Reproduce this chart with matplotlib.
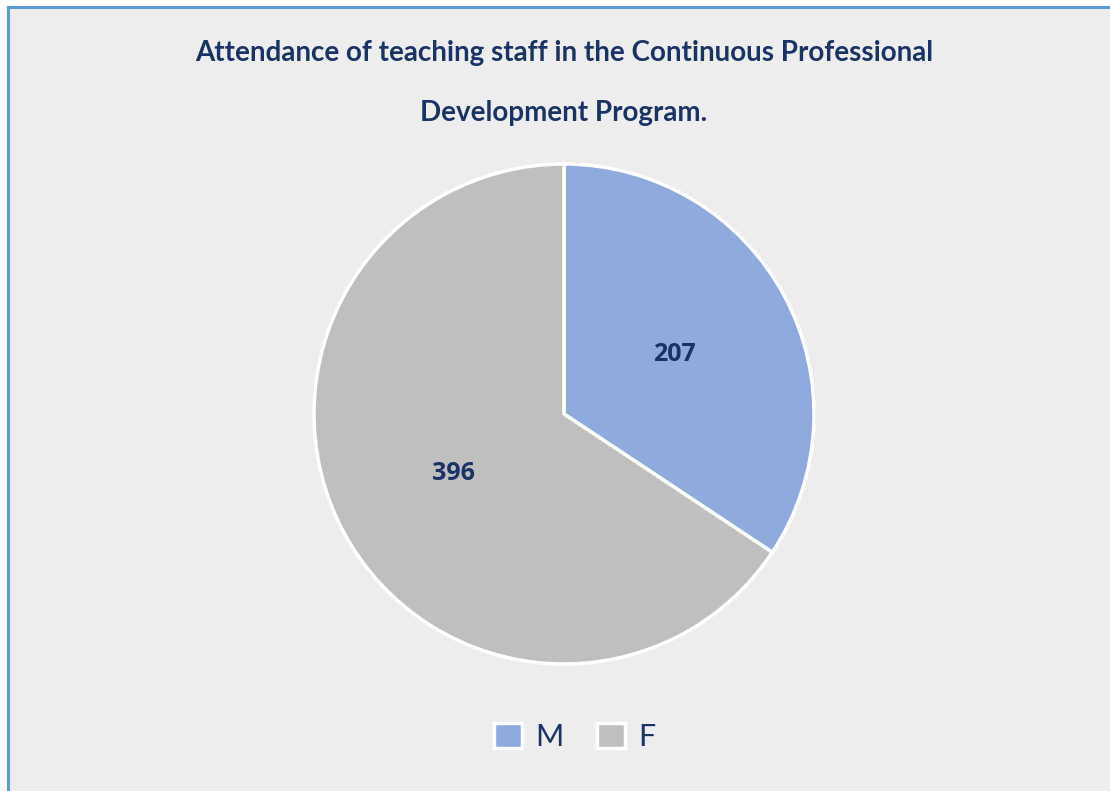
import matplotlib
matplotlib.use("Agg")
import matplotlib.pyplot as plt
from matplotlib.patches import Rectangle, Patch
from matplotlib.lines import Line2D

categories = ["M", "F"]
values = [207, 396]
colors = ["#8FAADC", "#BFBFBF"]
title_lines = ["Attendance of teaching staff in the Continuous Professional",
               "Development Program."]

W, H = 1110, 791
navy = "#1A3366"
fig = plt.figure(figsize=(W / 100, H / 100), dpi=100, facecolor="white")

# chart area background with blue border on top/left
bx, by = 8 / W, 1 - 7 / H
fig.patches.append(Rectangle((bx, -0.1), 1.2, by + 0.1, transform=fig.transFigure,
                             facecolor="#EDEDED", edgecolor="none", zorder=-5))
fig.lines.append(Line2D([bx, bx], [-0.1, by], transform=fig.transFigure,
                        color="#5B9BD5", lw=2.2, zorder=-4))
fig.lines.append(Line2D([bx, 1.1], [by, by], transform=fig.transFigure,
                        color="#5B9BD5", lw=2.2, zorder=-4))

fig.text(564 / W, 1 - 53 / H, title_lines[0], ha="center", va="center",
         fontsize=20, fontweight="bold", color=navy, family="Lato")
fig.text(564 / W, 1 - 113 / H, title_lines[1], ha="center", va="center",
         fontsize=20, fontweight="bold", color=navy, family="Lato")

cx, cy, r = 564, H - 414, 250
ax = fig.add_axes([(cx - r) / W, (cy - r) / H, 2 * r / W, 2 * r / H])
ax.set_zorder(2)
ax.set_facecolor("none")
wedges, texts, autotexts = ax.pie(
    values, colors=colors, startangle=90, counterclock=False, radius=1,
    autopct=lambda p: f"{round(p * sum(values) / 100):d}", pctdistance=0.5,
    wedgeprops=dict(edgecolor="white", linewidth=2.5))
for t in autotexts:
    t.set_fontsize(18)
    t.set_fontweight("bold")
    t.set_color(navy)
    t.set_family("Open Sans")
ax.set_xlim(-1.0, 1.0)
ax.set_ylim(-1.0, 1.0)
ax.set_aspect("equal")
ax.axis("off")

handles = [Patch(facecolor=c, edgecolor="white", linewidth=2.5) for c in colors]
leg = fig.legend(handles, categories, loc="center", bbox_to_anchor=(575 / W, 1 - 737 / H),
                 ncol=2, frameon=False, handlelength=0.9, handleheight=0.9,
                 handletextpad=0.45, columnspacing=1.1,
                 prop=dict(family="Lato", size=22))
leg.set_zorder(3)
for t in leg.get_texts():
    t.set_color(navy)

fig.savefig("out.png", dpi=100, facecolor="white")
